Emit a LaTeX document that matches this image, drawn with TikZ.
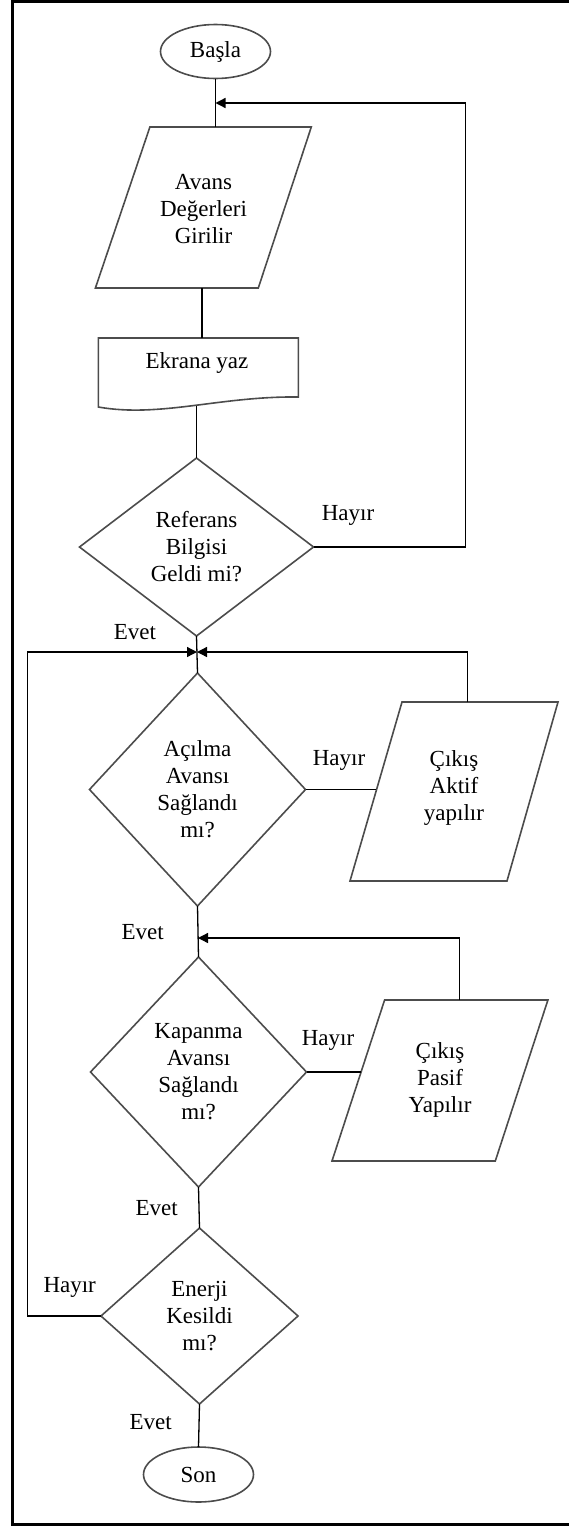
\documentclass[tikz,border=0pt]{standalone}
\usepackage{fontspec}
\setmainfont{Liberation Serif}
\usetikzlibrary{shapes.geometric,arrows.meta}
\begin{document}
\begin{tikzpicture}[x=1pt,y=-1pt,
  every node/.style={font=\fontsize{23}{27}\selectfont, align=center, inner sep=0pt, outer sep=0pt},
  shp/.style={draw=black!70, line width=1.6pt},
  term/.style={shp, ellipse, minimum width=110pt, minimum height=54pt},
  dec/.style={shp, diamond},
  con/.style={draw=black, line width=1.3pt},
  arr/.style={con, -{Triangle[length=10pt,width=10pt]}}]
\useasboundingbox (0,0) rectangle (569,1526);
% frame
\draw[line width=3pt] (580,1.7) -- (12.8,1.7) -- (12.8,1524.3) -- (580,1524.3);

% start
\node[term] (basla) at (215.5,51.5) {Başla};

% input parallelogram
\draw[shp] (149.9,127) -- (311.3,127) -- (258.3,288) -- (95.4,288) -- cycle;
\node (giris) at (203.5,209) {Avans\\Değerleri\\Girilir};
\coordinate (girisN) at (215.5,127);
\coordinate (girisS) at (202,288);

% document shape
\draw[shp] (98.3,338) -- (298.3,338) -- (298.3,397) .. controls (220,396) and (160,418) .. (98.3,407) -- cycle;
\node (ekran) at (197,363) {Ekrana yaz};
\coordinate (ekranN) at (202,338);
\coordinate (ekranS) at (196.5,406);

% decisions
\node[dec, minimum width=234pt, minimum height=178pt, shape aspect=1.3] (ref) at (196.5,547) {Referans\\Bilgisi\\Geldi mi?};
\node[dec, minimum width=216pt, minimum height=233pt] (acil) at (197.5,789.5) {Açılma\\Avansı\\Sağlandı\\mı?};
\node[dec, minimum width=216pt, minimum height=230pt] (kap) at (198.5,1072) {Kapanma\\Avansı\\Sağlandı\\mı?};
\node[dec, minimum width=197pt, minimum height=176pt] (enerji) at (199.5,1316) {Enerji\\Kesildi\\mı?};

% end
\node[term, minimum height=55pt] (son) at (198.5,1474.5) {Son};

% output parallelograms
\draw[shp] (402,702) -- (558,702) -- (507,881) -- (350,881) -- cycle;
\node (aktif) at (454,788) {Çıkış\\Aktif\\yapılır};
\coordinate (aktifN) at (467.3,702);
\coordinate (aktifW) at (376.4,789.5);

\draw[shp] (384.6,1000) -- (547.9,1000) -- (495.3,1161) -- (332,1161) -- cycle;
\node (pasif) at (440,1080) {Çıkış\\Pasif\\Yapılır};
\coordinate (pasifN) at (459.7,1000);
\coordinate (pasifW) at (360.7,1072);

% junctions and corners
\coordinate (j1) at (215.5,103);
\coordinate (c1) at (465.5,547);
\coordinate (j2) at (197,652);
\coordinate (c4) at (27.3,1316);
\coordinate (j3) at (198,938);

% connectors
\draw[con] (basla.south) -- (girisN);
\draw[con] (girisS) -- (ekranN);
\draw[con] (ekranS) -- (ref.north);
\draw[arr] (ref.east) -- (c1) |- (j1);
\draw[con] (ref.south) -- (acil.north);
\draw[arr] (enerji.west) -- (c4) |- (j2);
\draw[arr] (aktifN) |- (j2);
\draw[con] (acil.east) -- (aktifW);
\draw[con] (acil.south) -- (kap.north);
\draw[arr] (pasifN) |- (j3);
\draw[con] (kap.east) -- (pasifW);
\draw[con] (kap.south) -- (enerji.north);
\draw[con] (enerji.south) -- (son.north);

% labels
\node (h1) at (348,515) {Hayır};
\node (e1) at (135,632) {Evet};
\node (h2) at (339,760) {Hayır};
\node (e2) at (142.6,932) {Evet};
\node (h3) at (328,1040) {Hayır};
\node (e3) at (156.7,1208) {Evet};
\node (h4) at (69.7,1287) {Hayır};
\node (e4) at (150.6,1422) {Evet};
\end{tikzpicture}
\end{document}
